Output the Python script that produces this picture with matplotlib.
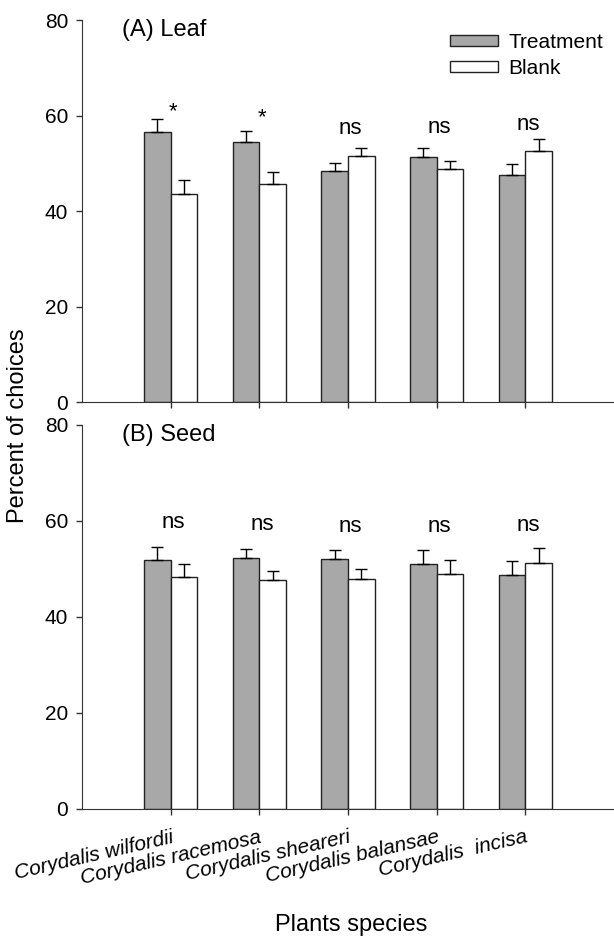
import numpy as np
import matplotlib
matplotlib.use("Agg")
import matplotlib.pyplot as plt

plt.rcParams['font.family'] = ['Liberation Sans', 'DejaVu Sans']

species = ["Corydalis wilfordii", "Corydalis racemosa", "Corydalis sheareri",
           "Corydalis balansae", "Corydalis  incisa"]

# (A) Leaf
leaf_treat = [56.5, 54.4, 48.4, 51.3, 47.5]
leaf_treat_se = [2.8, 2.4, 1.7, 1.9, 2.4]
leaf_blank = [43.6, 45.6, 51.5, 48.8, 52.6]
leaf_blank_se = [2.9, 2.6, 1.7, 1.7, 2.5]
leaf_sig = ["*", "*", "ns", "ns", "ns"]
leaf_sig_y = [60.7, 59.6, 57.2, 57.4, 58.2]

# (B) Seed
seed_treat = [51.9, 52.3, 52.1, 51.1, 48.7]
seed_treat_se = [2.7, 1.9, 1.9, 2.8, 3.0]
seed_blank = [48.3, 47.7, 47.9, 49.0, 51.3]
seed_blank_se = [2.7, 1.9, 2.0, 2.8, 3.0]
seed_sig = ["ns", "ns", "ns", "ns", "ns"]
seed_sig_y = [59.6, 59.2, 58.9, 58.9, 59.1]

gray = "#a8a8a8"
w = 0.30
x = np.arange(1, len(species) + 1)

fig = plt.figure(figsize=(6.14, 9.36), dpi=100)
ax1 = fig.add_axes([0.1336, 0.5705, 0.8664, 0.4081])
ax2 = fig.add_axes([0.1336, 0.1357, 0.8664, 0.4103])


def draw(ax, treat, tse, blank, bse, sig, sig_y, label):
    ekw = dict(ecolor="black", elinewidth=1, capsize=4, capthick=1)
    ax.bar(x - w / 2, treat, w, color=gray, edgecolor="#222222", linewidth=1,
           yerr=[np.zeros(len(tse)), tse], error_kw=ekw, label="Treatment", zorder=2)
    ax.bar(x + w / 2, blank, w, color="white", edgecolor="#222222", linewidth=1,
           yerr=[np.zeros(len(bse)), bse], error_kw=ekw, label="Blank", zorder=2)
    for xi, s, yy in zip(x, sig, sig_y):
        ax.text(xi + 0.03, yy, s, ha="center", va="center", fontsize=16)
    ax.set_xlim(0, 6)
    ax.set_ylim(0, 80)
    ax.set_yticks([0, 20, 40, 60, 80])
    ax.set_xticks(x)
    for side in ["top", "right"]:
        ax.spines[side].set_visible(False)
    for side in ["left", "bottom"]:
        ax.spines[side].set_color("#333333")
    ax.tick_params(axis="y", direction="out", length=4, width=1, labelsize=15,
                   pad=6, color="#333333")
    ax.tick_params(axis="x", direction="out", length=4.5, width=1, pad=9,
                   color="#333333")
    ax.text(0.075, 0.974, label, transform=ax.transAxes, fontsize=17,
            ha="left", va="center")


draw(ax1, leaf_treat, leaf_treat_se, leaf_blank, leaf_blank_se, leaf_sig, leaf_sig_y, "(A) Leaf")
draw(ax2, seed_treat, seed_treat_se, seed_blank, seed_blank_se, seed_sig, seed_sig_y, "(B) Seed")

ax1.set_xticklabels([])
ax2.set_xticklabels(species, rotation=13, ha="right", rotation_mode="anchor",
                    style="italic", fontsize=15)

ax1.legend(loc="upper left", bbox_to_anchor=(0.692, 0.966), frameon=False, fontsize=15,
           borderpad=0, borderaxespad=0, handlelength=2.3, handleheight=0.42,
           handletextpad=0.48, labelspacing=0.35)

fig.text(0.029, 0.545, "Percent of choices", rotation=90, ha="center", va="center",
         fontsize=17)
fig.text(0.572, 0.0055, "Plants species", ha="center", va="baseline", fontsize=17)

fig.savefig("out.png", dpi=100)
